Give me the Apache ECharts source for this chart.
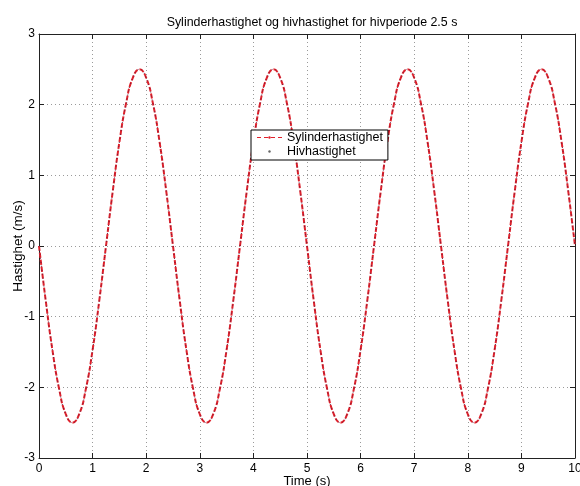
<!DOCTYPE html>
<html>
<head>
<meta charset="utf-8">
<script src="https://cdn.jsdelivr.net/npm/echarts@6/dist/echarts.min.js"></script>
<style>
  html, body { margin: 0; padding: 0; background: #fff; }
  #chart { width: 580px; height: 486px; }
</style>
</head>
<body>
<div id="chart"></div>
<script>
// Sample times (s), every 0.125 s over 0..10
const times = [
  0, 0.125, 0.25, 0.375, 0.5, 0.625, 0.75, 0.875, 1, 1.125,
  1.25, 1.375, 1.5, 1.625, 1.75, 1.875, 2, 2.125, 2.25, 2.375,
  2.5, 2.625, 2.75, 2.875, 3, 3.125, 3.25, 3.375, 3.5, 3.625,
  3.75, 3.875, 4, 4.125, 4.25, 4.375, 4.5, 4.625, 4.75, 4.875,
  5, 5.125, 5.25, 5.375, 5.5, 5.625, 5.75, 5.875, 6, 6.125,
  6.25, 6.375, 6.5, 6.625, 6.75, 6.875, 7, 7.125, 7.25, 7.375,
  7.5, 7.625, 7.75, 7.875, 8, 8.125, 8.25, 8.375, 8.5, 8.625,
  8.75, 8.875, 9, 9.125, 9.25, 9.375, 9.5, 9.625, 9.75, 9.875,
  10
];

// Cylinder velocity (m/s)
const sylinderhastighet = [
  0, -0.77, -1.47, -2.02, -2.38, -2.5, -2.38, -2.02, -1.47, -0.77,
  0, 0.77, 1.47, 2.02, 2.38, 2.5, 2.38, 2.02, 1.47, 0.77,
  0, -0.77, -1.47, -2.02, -2.38, -2.5, -2.38, -2.02, -1.47, -0.77,
  0, 0.77, 1.47, 2.02, 2.38, 2.5, 2.38, 2.02, 1.47, 0.77,
  0, -0.77, -1.47, -2.02, -2.38, -2.5, -2.38, -2.02, -1.47, -0.77,
  0, 0.77, 1.47, 2.02, 2.38, 2.5, 2.38, 2.02, 1.47, 0.77,
  0, -0.77, -1.47, -2.02, -2.38, -2.5, -2.38, -2.02, -1.47, -0.77,
  0, 0.77, 1.47, 2.02, 2.38, 2.5, 2.38, 2.02, 1.47, 0.77,
  0
];

// Heave velocity (m/s)
const hivhastighet = [
  0, -0.77, -1.47, -2.02, -2.38, -2.5, -2.38, -2.02, -1.47, -0.77,
  0, 0.77, 1.47, 2.02, 2.38, 2.5, 2.38, 2.02, 1.47, 0.77,
  0, -0.77, -1.47, -2.02, -2.38, -2.5, -2.38, -2.02, -1.47, -0.77,
  0, 0.77, 1.47, 2.02, 2.38, 2.5, 2.38, 2.02, 1.47, 0.77,
  0, -0.77, -1.47, -2.02, -2.38, -2.5, -2.38, -2.02, -1.47, -0.77,
  0, 0.77, 1.47, 2.02, 2.38, 2.5, 2.38, 2.02, 1.47, 0.77,
  0, -0.77, -1.47, -2.02, -2.38, -2.5, -2.38, -2.02, -1.47, -0.77,
  0, 0.77, 1.47, 2.02, 2.38, 2.5, 2.38, 2.02, 1.47, 0.77,
  0
];

const titleText = 'Sylinderhastighet og hivhastighet for hivperiode 2.5 s';
const xName = 'Time (s)';
const yName = 'Hastighet (m/s)';
const seriesNames = ['Sylinderhastighet', 'Hivhastighet'];

const font = 'Liberation Sans, Arial, sans-serif';
const pair = (xs, ys) => xs.map((x, i) => [x, ys[i]]);

const chart = echarts.init(document.getElementById('chart'), null, { renderer: 'canvas' });

const gridLine = { show: true, lineStyle: { color: '#9a9a9a', type: [1, 3], width: 1 } };
const axisBase = {
  axisLine: { show: true, onZero: false, lineStyle: { color: '#222', width: 1 } },
  axisTick: { show: true, inside: true, length: 5, lineStyle: { color: '#222' } }
};

chart.setOption({
  animation: false,
  backgroundColor: '#ffffff',
  title: {
    text: titleText,
    left: 307,
    textAlign: 'center',
    top: 12,
    textStyle: { fontFamily: font, fontSize: 12.4, fontWeight: 'normal', color: '#000' }
  },
  legend: {
    show: true,
    left: 251,
    top: 130,
    orient: 'vertical',
    backgroundColor: '#fff',
    borderColor: '#000',
    borderWidth: 1,
    padding: [1, 5, 2, 5],
    itemGap: 1,
    itemWidth: 25,
    itemHeight: 3,
    textStyle: { fontFamily: font, fontSize: 12.5, color: '#000', padding: [0, 0, 0, 0] },
    data: [
      {
        name: seriesNames[0],
        itemStyle: { color: '#e0202a', borderWidth: 0 },
        lineStyle: { color: '#e0202a', width: 1, type: [4, 3] }
      },
      {
        name: seriesNames[1],
        itemStyle: { color: '#666', borderWidth: 0 },
        lineStyle: { opacity: 0 }
      }
    ]
  },
  grid: { left: 39, right: 5, top: 34, bottom: 28, outerBoundsMode: 'none', containLabel: false },
  xAxis: [
    Object.assign({
      type: 'value', min: 0, max: 10, interval: 1,
      name: xName, nameLocation: 'middle', nameGap: 17, nameMoveOverlap: false,
      nameTextStyle: { fontFamily: font, fontSize: 13, color: '#000' },
      axisLabel: { fontFamily: font, fontSize: 12, color: '#000', margin: 5 },
      splitLine: gridLine
    }, axisBase),
    Object.assign({
      type: 'value', min: 0, max: 10, interval: 1, position: 'top',
      axisLabel: { show: false }, splitLine: { show: false }
    }, axisBase)
  ],
  yAxis: [
    Object.assign({
      type: 'value', min: -3, max: 3, interval: 1,
      name: yName, nameLocation: 'middle', nameGap: 14, nameMoveOverlap: false,
      nameTextStyle: { fontFamily: font, fontSize: 13.5, color: '#000' },
      axisLabel: { fontFamily: font, fontSize: 12, color: '#000', margin: 4 },
      splitLine: gridLine
    }, axisBase),
    Object.assign({
      type: 'value', min: -3, max: 3, interval: 1, position: 'right',
      axisLabel: { show: false }, splitLine: { show: false }
    }, axisBase)
  ],
  series: [
    {
      name: seriesNames[0],
      type: 'line',
      data: pair(times, sylinderhastighet),
      smooth: 0.5,
      showSymbol: false,
      symbol: 'none',
      lineStyle: { color: '#e0202a', width: 2, type: [5, 2] },
      itemStyle: { color: '#e0202a' },
      z: 2
    },
    {
      name: seriesNames[1],
      type: 'line',
      data: pair(times, hivhastighet),
      smooth: 0.5,
      showSymbol: false,
      symbol: 'none',
      lineStyle: { color: '#6a2040', width: 1, type: [1, 3] },
      itemStyle: { color: '#6a2040' },
      z: 3
    }
  ]
});
</script>
</body>
</html>
